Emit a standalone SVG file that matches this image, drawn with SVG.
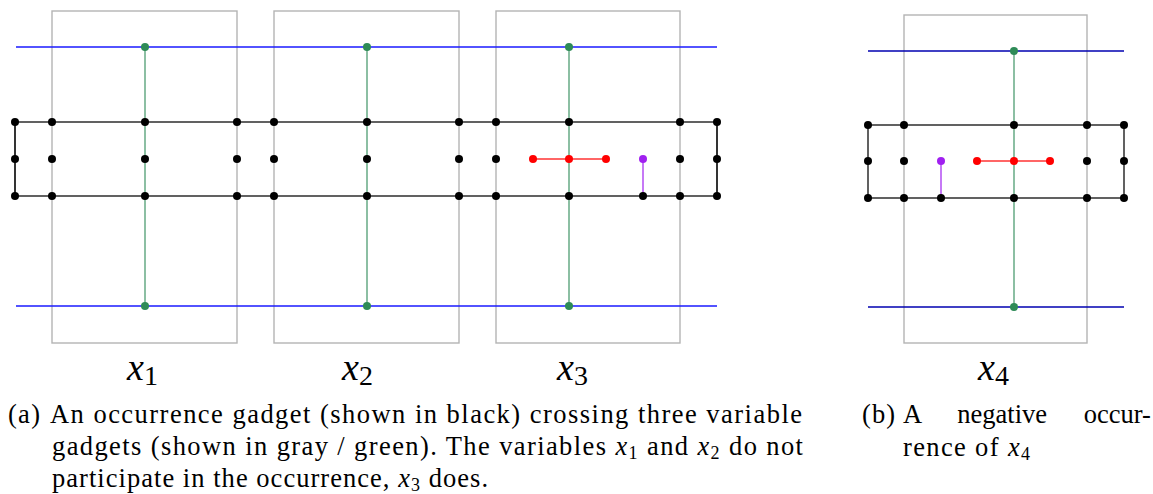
<svg xmlns="http://www.w3.org/2000/svg" width="1153" height="494" viewBox="0 0 1153 494">
<style>
.box{fill:none;stroke:#b4b4b4;stroke-width:1.4}
.blue{stroke:#1a1aff;stroke-width:1.4;fill:none}
.blue2{stroke:#0000b0;stroke-width:1.3;fill:none}
.green{stroke:#2e8b57;stroke-opacity:0.55;stroke-width:2;fill:none}
.blk{stroke:#000;stroke-opacity:0.62;stroke-width:2;fill:none}
.blkv{stroke:#000;stroke-width:1.6;fill:none}
.red{stroke:#ff0000;stroke-opacity:0.6;stroke-width:2;fill:none}
.pur{stroke:#a020f0;stroke-opacity:0.6;stroke-width:2;fill:none}
.d{fill:#000}
.dg{fill:#2e8b57}
.dr{fill:#ff0000}
.dp{fill:#a020f0}
.cap{font-family:"Liberation Serif","DejaVu Serif",serif;font-size:26.5px;fill:#000}
.lab{font-family:"Liberation Serif","DejaVu Serif",serif;fill:#000}
.it{font-style:italic}
.sub{font-size:18px}
</style>
<defs>
<circle id="dot" r="4"/>
</defs>
<!-- variable gadgets -->
<g id="var-x1"><rect class="box" x="52" y="11" width="185" height="332"/></g>
<g id="var-x2"><rect class="box" x="274" y="11" width="185" height="332"/></g>
<g id="var-x3"><rect class="box" x="496" y="11" width="184" height="332"/></g>
<g id="var-x4"><rect class="box" x="904" y="15" width="183" height="328"/></g>
<g id="connectors">
<line class="blue" x1="16" y1="47" x2="717" y2="47"/>
<line class="blue" x1="16" y1="306" x2="717" y2="306"/>
<line class="green" x1="145" y1="47" x2="145" y2="306"/>
<line class="green" x1="367" y1="47" x2="367" y2="306"/>
<line class="green" x1="569" y1="47" x2="569" y2="306"/>
<line class="blk" x1="15" y1="122" x2="717" y2="122"/>
<line class="blk" x1="15" y1="196" x2="717" y2="196"/>
<line class="blkv" x1="15" y1="122" x2="15" y2="196"/>
<line class="blkv" x1="717" y1="122" x2="717" y2="196"/>
<line class="red" x1="533" y1="159" x2="606" y2="159"/>
<line class="pur" x1="643" y1="159" x2="643" y2="196"/>
<line class="blue2" x1="868" y1="51" x2="1124" y2="51"/>
<line class="blue2" x1="868" y1="307" x2="1124" y2="307"/>
<line class="green" x1="1014" y1="51" x2="1014" y2="307"/>
<line class="blk" x1="868" y1="125" x2="1124" y2="125"/>
<line class="blk" x1="868" y1="198" x2="1124" y2="198"/>
<line class="blk" x1="868" y1="125" x2="868" y2="198"/>
<line class="blk" x1="1124" y1="125" x2="1124" y2="198"/>
<line class="red" x1="977" y1="161" x2="1050" y2="161"/>
<line class="pur" x1="941" y1="161" x2="941" y2="198"/>
</g>
<!-- dots (a) -->
<g id="nodes-a">
<g class="dg"><use href="#dot" x="145" y="47"/><use href="#dot" x="367" y="47"/><use href="#dot" x="569" y="47"/><use href="#dot" x="145" y="306"/><use href="#dot" x="367" y="306"/><use href="#dot" x="569" y="306"/></g>
<g class="d">
<use href="#dot" x="15" y="122"/><use href="#dot" x="52" y="122"/><use href="#dot" x="145" y="122"/><use href="#dot" x="237" y="122"/><use href="#dot" x="274" y="122"/><use href="#dot" x="367" y="122"/><use href="#dot" x="459" y="122"/><use href="#dot" x="496" y="122"/><use href="#dot" x="569" y="122"/><use href="#dot" x="680" y="122"/><use href="#dot" x="717" y="122"/>
<use href="#dot" x="15" y="159"/><use href="#dot" x="52" y="159"/><use href="#dot" x="145" y="159"/><use href="#dot" x="237" y="159"/><use href="#dot" x="274" y="159"/><use href="#dot" x="367" y="159"/><use href="#dot" x="459" y="159"/><use href="#dot" x="496" y="159"/><use href="#dot" x="680" y="159"/><use href="#dot" x="717" y="159"/>
<use href="#dot" x="15" y="196"/><use href="#dot" x="52" y="196"/><use href="#dot" x="145" y="196"/><use href="#dot" x="237" y="196"/><use href="#dot" x="274" y="196"/><use href="#dot" x="367" y="196"/><use href="#dot" x="459" y="196"/><use href="#dot" x="496" y="196"/><use href="#dot" x="569" y="196"/><use href="#dot" x="643" y="196"/><use href="#dot" x="680" y="196"/><use href="#dot" x="717" y="196"/>
</g>
<g class="dr"><use href="#dot" x="533" y="159"/><use href="#dot" x="569" y="159"/><use href="#dot" x="606" y="159"/></g>
<g class="dp"><use href="#dot" x="643" y="159"/></g>
</g>
<!-- dots (b) -->
<g id="nodes-b">
<g class="dg"><use href="#dot" x="1014" y="51"/><use href="#dot" x="1014" y="307"/></g>
<g class="d">
<use href="#dot" x="868" y="125"/><use href="#dot" x="904" y="125"/><use href="#dot" x="1014" y="125"/><use href="#dot" x="1087" y="125"/><use href="#dot" x="1124" y="125"/>
<use href="#dot" x="868" y="161"/><use href="#dot" x="904" y="161"/><use href="#dot" x="1087" y="161"/><use href="#dot" x="1124" y="161"/>
<use href="#dot" x="868" y="198"/><use href="#dot" x="904" y="198"/><use href="#dot" x="941" y="198"/><use href="#dot" x="1014" y="198"/><use href="#dot" x="1087" y="198"/><use href="#dot" x="1124" y="198"/>
</g>
<g class="dr"><use href="#dot" x="977" y="161"/><use href="#dot" x="1014" y="161"/><use href="#dot" x="1050" y="161"/></g>
<g class="dp"><use href="#dot" x="941" y="161"/></g>
</g>
<!-- labels -->
<g id="labels">
<text class="lab" x="127" y="380"><tspan class="it" font-size="38">x</tspan><tspan font-size="28" dy="5">1</tspan></text>
<text class="lab" x="342" y="380"><tspan class="it" font-size="38">x</tspan><tspan font-size="28" dy="5">2</tspan></text>
<text class="lab" x="557" y="380"><tspan class="it" font-size="38">x</tspan><tspan font-size="28" dy="5">3</tspan></text>
<text class="lab" x="978" y="380"><tspan class="it" font-size="38">x</tspan><tspan font-size="28" dy="5">4</tspan></text>
</g>
<g id="captions">
<text class="cap" x="8" y="423" textLength="32" lengthAdjust="spacing">(a)</text>
<text class="cap" x="50" y="423" textLength="752" lengthAdjust="spacing">An occurrence gadget (shown in black) crossing three variable</text>
<text class="cap" x="52" y="455" textLength="751" lengthAdjust="spacing">gadgets (shown in gray / green). The variables <tspan class="it">x</tspan><tspan class="sub" dy="4">1</tspan><tspan dy="-4"> and </tspan><tspan class="it">x</tspan><tspan class="sub" dy="4">2</tspan><tspan dy="-4"> do not</tspan></text>
<text class="cap" x="52" y="487" textLength="436" lengthAdjust="spacing">participate in the occurrence, <tspan class="it">x</tspan><tspan class="sub" dy="4">3</tspan><tspan dy="-4"> does.</tspan></text>
<text class="cap" x="862" y="423" textLength="33" lengthAdjust="spacing">(b)</text>
<text class="cap" x="903" y="423" word-spacing="30">A negative occur-</text>
<text class="cap" x="903" y="456" textLength="127" lengthAdjust="spacing">rence of <tspan class="it">x</tspan><tspan class="sub" dy="4">4</tspan></text>
</g>
</svg>
